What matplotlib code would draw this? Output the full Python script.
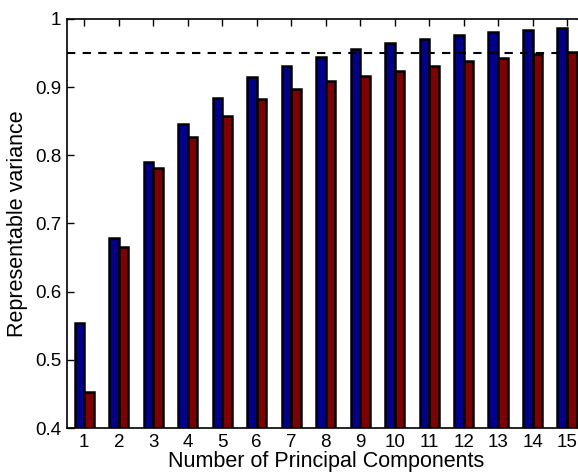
import numpy as np
import matplotlib
matplotlib.use('Agg')
import matplotlib.pyplot as plt

plt.rcParams['font.family'] = ['Liberation Sans', 'DejaVu Sans']

# Cumulative variance explained by the first k principal components
components = np.arange(1, 16)
variance_a = [0.554, 0.679, 0.790, 0.846, 0.884, 0.915, 0.931, 0.944,
              0.956, 0.965, 0.971, 0.977, 0.981, 0.984, 0.987]
variance_b = [0.453, 0.666, 0.782, 0.827, 0.858, 0.883, 0.897, 0.909,
              0.916, 0.924, 0.931, 0.938, 0.943, 0.949, 0.952]
threshold = 0.95

fig = plt.figure(figsize=(5.78, 4.73), dpi=100)
ax = fig.add_axes([0.116, 0.095, 0.895, 0.865])

w = 0.28
ax.bar(components - w / 2, variance_a, width=w, color='#00008f',
       edgecolor='black', linewidth=1.8, zorder=2)
ax.bar(components + w / 2, variance_b, width=w, color='#800000',
       edgecolor='black', linewidth=1.8, zorder=2)
ax.axhline(threshold, color='black', linestyle='--', linewidth=1.5,
           dashes=(4, 3.5), zorder=3)

ax.set_xlim(0.5, 15.5)
ax.set_ylim(0.4, 1.0)
ax.set_xticks(components)
ax.set_yticks([0.4, 0.5, 0.6, 0.7, 0.8, 0.9, 1.0])
ax.set_yticklabels(['0.4', '0.5', '0.6', '0.7', '0.8', '0.9', '1'])
ax.tick_params(direction='in', top=True, right=True, length=5, width=1,
               labelsize=13.5, pad=4)
for s in ax.spines.values():
    s.set_linewidth(1.2)

ax.set_xlabel('Number of Principal Components', fontsize=15.5, labelpad=0)
ax.set_ylabel('Representable variance', fontsize=15.5, labelpad=5)

fig.savefig('out.png', dpi=100)
